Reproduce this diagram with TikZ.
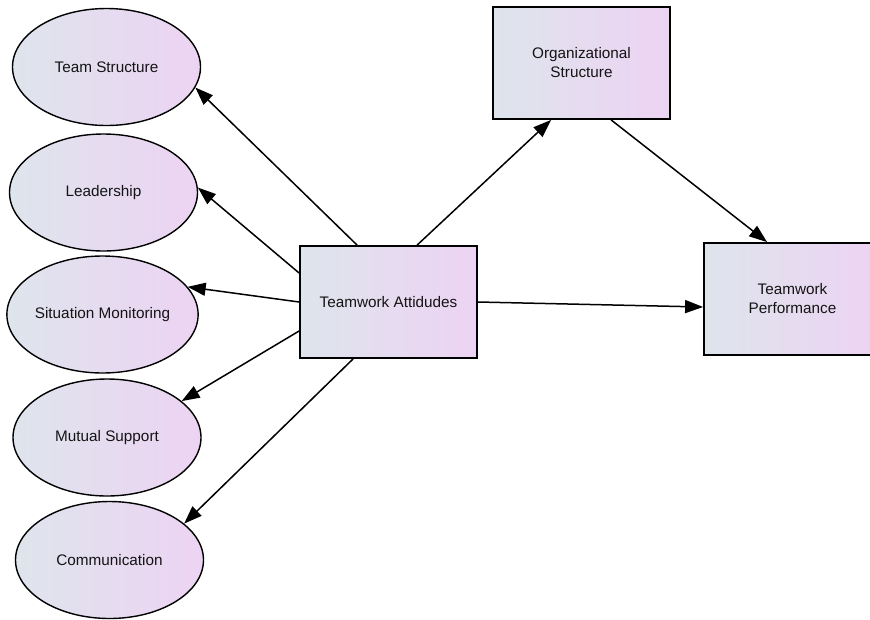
\documentclass[tikz,border=0pt]{standalone}
\usepackage{fontspec}
\setmainfont{Liberation Sans}
\usetikzlibrary{shapes.geometric,arrows.meta}
\definecolor{gleft}{HTML}{DEE5EC}
\definecolor{gright}{HTML}{EDD3F3}
\definecolor{txt}{HTML}{141414}
\tikzset{
  latent/.style={ellipse, draw=black, line width=1.4pt, minimum width=188pt, minimum height=117pt, inner sep=0pt,
    left color=gleft, right color=gright, text=txt, font=\fontsize{15.3}{19}\selectfont},
  observed/.style={rectangle, draw=black, line width=1.8pt, minimum width=177pt, minimum height=112pt, inner sep=0pt,
    left color=gleft, right color=gright, text=txt, align=center, font=\fontsize{15.3}{19}\selectfont},
  conn/.style={line width=1.5pt, -{Triangle[length=18pt,width=13pt]}}
}
\begin{document}
\begin{tikzpicture}[x=1pt,y=-1pt]
\useasboundingbox (0,0) rectangle (870,619);
\fill[white] (0,0) rectangle (870,619);
\node[latent] (ts) at (106.5,67) {Team Structure};
\node[latent] (ld) at (103.5,192.5) {Leadership};
\node[latent] (sm) at (102.5,314.5) {Situation Monitoring};
\node[latent] (ms) at (107,437.5) {Mutual Support};
\node[latent] (cm) at (109.5,560) {Communication};
\node[observed] (ta) at (388.5,302) {Teamwork Attidudes};
\node[observed] (os) at (581.5,63) {Organizational\\Structure};
\node[observed] (tp) at (792.5,299) {Teamwork\\Performance};
\coordinate (a1) at ([xshift=58pt]ta.north west);
\coordinate (a2) at ([yshift=29pt]ta.west);
\coordinate (a4) at ([yshift=-29pt]ta.west);
\coordinate (a5) at ([xshift=54pt]ta.south west);
\coordinate (a6) at ([xshift=118pt]ta.north west);
\coordinate (o1) at ([xshift=59pt]os.south west);
\coordinate (o2) at ([xshift=119pt]os.south west);
\coordinate (p1) at ([xshift=64pt]tp.north west);
\coordinate (p2) at ([yshift=-8pt]tp.west);
\draw[conn] (a1) -- (ts.-13);
\draw[conn] (a2) -- (ld.3);
\draw[conn] (ta.west) -- (sm.18);
\draw[conn] (a4) -- (ms.26);
\draw[conn] (a5) -- (cm.26);
\draw[conn] (a6) -- (o1);
\draw[conn] (o2) -- (p1);
\draw[conn] (ta.east) -- (p2);
\end{tikzpicture}
\end{document}
